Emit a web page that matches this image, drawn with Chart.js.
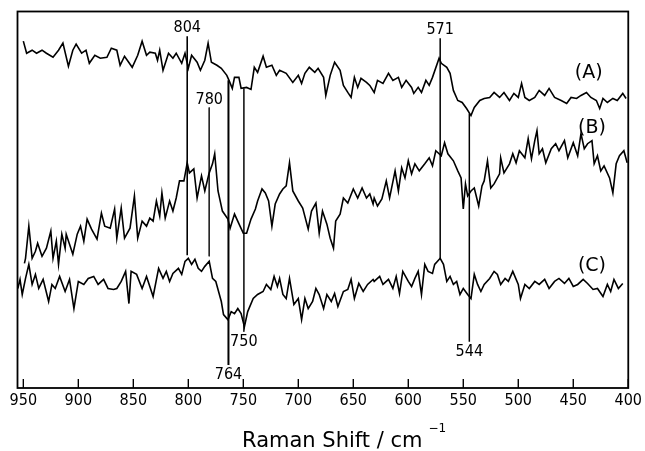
<!DOCTYPE html>
<html>
<head>
<meta charset="utf-8">
<title>Raman spectra</title>
<script src="https://cdn.jsdelivr.net/npm/chart.js@4.4.1/dist/chart.umd.min.js"></script>
<style>
  html, body { margin: 0; padding: 0; background: #fff; }
  #wrap { width: 645px; height: 451px; }
</style>
</head>
<body>
<div id="wrap"><canvas id="raman"></canvas></div>
<script>
/* ========= Data (intensity in arbitrary units) ========= */
const tickValues = [950, 900, 850, 800, 750, 700, 650, 600, 550, 500, 450, 400];

const shiftA = [950, 947, 942, 938, 933, 929, 923, 918, 914, 909, 905, 902, 897, 893, 890, 885, 880, 874, 870, 865,
  862, 858, 851, 846, 842, 838, 835, 830, 828, 826, 823, 818, 814, 811, 806, 803, 800, 797, 792, 789,
  785, 782, 779, 774, 770, 765, 763, 760, 758, 754, 752, 747, 743, 740, 737, 732, 729, 724, 720, 717,
  711, 705, 700, 697, 694, 690, 685, 682, 677, 675, 671, 667, 662, 659, 655, 652, 649, 646, 643, 638,
  635, 631, 628, 623, 618, 614, 609, 606, 602, 597, 595, 591, 588, 584, 581, 578, 572, 570, 565, 562,
  559, 555, 551, 547, 543, 540, 535, 531, 526, 522, 517, 513, 508, 504, 500, 497, 494, 490, 485, 481,
  476, 472, 467, 461, 456, 452, 447, 443, 438, 434, 429, 426, 423, 419, 414, 410, 405, 402];
const intensityA = [345, 333, 336, 333, 336, 333, 329, 336, 343, 320, 336, 342, 333, 336, 323, 331, 328, 329, 338, 336,
  321, 330, 319, 331, 345, 331, 334, 333, 326, 336, 316, 333, 328, 333, 323, 333, 318, 331, 324, 316,
  326, 343, 324, 321, 318, 311, 306, 298, 309, 309, 298, 299, 297, 319, 314, 330, 319, 321, 311, 316,
  313, 304, 311, 303, 313, 319, 314, 318, 309, 291, 311, 324, 316, 301, 294, 289, 309, 299, 308, 304,
  301, 294, 306, 303, 313, 306, 309, 299, 306, 299, 293, 299, 294, 306, 301, 309, 328, 323, 319, 313,
  296, 286, 284, 278, 271, 279, 286, 288, 289, 294, 289, 294, 286, 293, 289, 303, 289, 286, 289, 296,
  291, 298, 289, 286, 283, 289, 288, 291, 294, 289, 286, 278, 288, 284, 288, 286, 293, 288];

const shiftB = [949, 948, 945, 942, 939, 937, 933, 929, 925, 923, 920, 918, 915, 912, 911, 908, 905, 901, 898, 895,
  892, 888, 883, 879, 876, 871, 867, 865, 861, 858, 853, 849, 846, 842, 838, 835, 832, 829, 826, 824,
  821, 817, 814, 811, 808, 804, 801, 799, 795, 792, 788, 785, 781, 778, 776, 773, 769, 764, 762, 758,
  753, 750, 747, 743, 739, 737, 733, 730, 727, 724, 721, 717, 714, 711, 708, 705, 700, 696, 691, 688,
  684, 681, 678, 674, 671, 668, 666, 662, 659, 655, 650, 646, 642, 638, 635, 632, 631, 628, 624, 620,
  617, 612, 609, 606, 603, 600, 597, 594, 590, 585, 581, 578, 575, 570, 567, 564, 559, 555, 552, 550,
  548, 546, 543, 540, 536, 533, 531, 528, 525, 522, 517, 516, 513, 508, 505, 502, 499, 494, 491, 488,
  485, 483, 481, 478, 475, 470, 466, 463, 458, 455, 450, 446, 443, 440, 437, 433, 431, 428, 425, 422,
  417, 414, 411, 408, 404, 401];
const intensityB = [124, 129, 161, 129, 136, 144, 131, 139, 156, 129, 146, 123, 153, 139, 153, 143, 133, 153, 161, 146,
  168, 158, 148, 174, 161, 159, 178, 149, 179, 149, 159, 191, 149, 166, 161, 169, 166, 186, 171, 194,
  169, 186, 176, 189, 206, 206, 224, 214, 218, 189, 211, 196, 214, 223, 233, 196, 176, 168, 159, 173,
  161, 154, 154, 168, 178, 186, 198, 194, 186, 161, 183, 193, 198, 201, 224, 196, 186, 179, 158, 176,
  184, 154, 176, 163, 149, 139, 166, 173, 189, 184, 198, 189, 199, 189, 193, 183, 189, 181, 188, 206,
  189, 216, 196, 219, 209, 226, 213, 223, 216, 223, 229, 221, 236, 231, 244, 233, 226, 216, 209, 178,
  203, 191, 196, 199, 181, 201, 206, 226, 199, 203, 213, 229, 214, 223, 233, 224, 236, 229, 248, 228,
  246, 256, 233, 238, 224, 238, 243, 236, 246, 229, 244, 231, 253, 238, 243, 246, 223, 231, 216, 221,
  209, 194, 223, 231, 236, 224];

const shiftC = [955, 953, 951, 948, 945, 942, 939, 936, 932, 927, 924, 921, 917, 912, 908, 904, 900, 895, 891, 886,
  882, 877, 873, 868, 865, 861, 857, 854, 852, 847, 842, 838, 832, 827, 823, 820, 817, 814, 809, 806,
  803, 800, 797, 794, 791, 788, 785, 781, 778, 775, 772, 770, 768, 764, 761, 758, 755, 752, 749, 746,
  741, 737, 732, 729, 725, 722, 719, 717, 714, 711, 708, 704, 700, 697, 694, 691, 687, 684, 681, 677,
  674, 670, 667, 664, 659, 655, 652, 649, 645, 641, 637, 632, 631, 626, 623, 618, 614, 611, 608, 605,
  600, 597, 594, 591, 588, 585, 582, 578, 576, 571, 568, 565, 562, 559, 556, 553, 550, 546, 543, 540,
  537, 534, 531, 526, 522, 519, 516, 512, 509, 505, 500, 498, 494, 490, 485, 481, 476, 472, 467, 463,
  458, 454, 450, 446, 441, 437, 432, 428, 423, 419, 416, 413, 409, 405];
const intensityC = [99, 108, 93, 109, 123, 103, 113, 99, 108, 86, 103, 99, 111, 96, 108, 79, 106, 103, 109, 111,
  103, 108, 99, 98, 99, 106, 116, 84, 116, 113, 99, 111, 91, 119, 109, 116, 106, 114, 119, 113,
  126, 129, 123, 128, 119, 116, 121, 126, 109, 106, 94, 86, 73, 68, 76, 74, 79, 74, 61, 76,
  89, 93, 96, 103, 98, 111, 101, 109, 93, 89, 109, 83, 89, 68, 89, 79, 86, 99, 93, 79,
  93, 86, 94, 81, 96, 98, 108, 89, 104, 96, 103, 108, 106, 111, 103, 108, 99, 111, 94, 116,
  106, 101, 109, 116, 93, 123, 116, 114, 123, 129, 123, 106, 111, 103, 106, 93, 99, 93, 89, 113,
  103, 96, 103, 109, 116, 113, 103, 109, 106, 116, 103, 89, 103, 99, 106, 103, 108, 99, 106, 109,
  104, 109, 101, 103, 108, 104, 98, 99, 91, 103, 96, 108, 99, 104];

// band markers: where the line sits, what it is called, and how far it runs
const markerShift = [801, 781, 763.5, 749.5, 571, 544.5];
const markerLabel = ['804', '780', '764', '750', '571', '544'];
const markerTop = [350, 279, 306, 298, 348, 273];
const markerBottom = [132, 131, 23, 56, 128, 46];
const markerSide = ['top', 'top', 'bottom', 'bottom', 'top', 'bottom'];
const markerWidth = [1.6, 1, 2, 1, 1.5, 1.5];

const traceLabel = ['(A)', '(B)', '(C)'];
const traceLabelShift = [436, 433, 433];
const traceLabelLevel = [313, 259, 121];

const FONT_NARROW = "'DejaVu Sans Condensed', 'DejaVu Sans', sans-serif";
const FONT_WIDE = "'DejaVu Sans', sans-serif";

function toPoints(xs, ys) {
  return xs.map((x, i) => ({ x: x, y: ys[i] }));
}

function traceSet(xs, ys) {
  return {
    data: toPoints(xs, ys),
    borderColor: '#000',
    borderWidth: 1.6,
    pointRadius: 0,
    tension: 0,
    fill: false
  };
}

const datasets = [
  traceSet(shiftA, intensityA),
  traceSet(shiftB, intensityB),
  traceSet(shiftC, intensityC)
];
markerShift.forEach((s, i) => {
  datasets.push({
    data: [{ x: s, y: markerTop[i] }, { x: s, y: markerBottom[i] }],
    borderColor: markerWidth[i] < 1.2 ? '#222' : '#000',
    borderWidth: markerWidth[i],
    pointRadius: 0,
    fill: false
  });
});

/* ========= Frame, inside ticks, labels ========= */
const framePlugin = {
  id: 'frame',
  afterDraw(chart) {
    const { ctx, chartArea: a, scales } = chart;
    const xs = scales.x, ys = scales.y;
    ctx.save();
    ctx.strokeStyle = '#000';
    ctx.lineWidth = 1.8;
    ctx.strokeRect(a.left, a.top, a.right - a.left, a.bottom - a.top);

    // tick marks point up into the plot
    ctx.lineWidth = 1.4;
    tickValues.forEach(v => {
      const px = xs.getPixelForValue(v);
      ctx.beginPath();
      ctx.moveTo(px, a.bottom);
      ctx.lineTo(px, a.bottom - 9);
      ctx.stroke();
    });

    // band labels
    ctx.fillStyle = '#000';
    ctx.font = '16px ' + FONT_NARROW;
    ctx.textAlign = 'center';
    ctx.textBaseline = 'middle';
    markerShift.forEach((s, i) => {
      const px = xs.getPixelForValue(s);
      if (markerSide[i] === 'top') {
        ctx.fillText(markerLabel[i], px, ys.getPixelForValue(markerTop[i]) - 8);
      } else {
        ctx.fillText(markerLabel[i], px, ys.getPixelForValue(markerBottom[i]) + 10);
      }
    });

    // spectrum labels
    ctx.font = '19px ' + FONT_WIDE;
    traceLabel.forEach((t, i) => {
      ctx.fillText(t, xs.getPixelForValue(traceLabelShift[i]), ys.getPixelForValue(traceLabelLevel[i]));
    });

    // axis title with superscript
    ctx.textAlign = 'left';
    ctx.textBaseline = 'alphabetic';
    ctx.font = '21px ' + FONT_WIDE;
    const main = 'Raman Shift / cm';
    const w = ctx.measureText(main).width;
    const x0 = 242;
    ctx.fillText(main, x0, 447);
    ctx.font = '12px ' + FONT_WIDE;
    ctx.fillText('\u22121', x0 + w + 6, 432);
    ctx.restore();
  }
};

new Chart(document.getElementById('raman'), {
  type: 'line',
  data: { datasets },
  options: {
    responsive: true,
    maintainAspectRatio: false,
    animation: false,
    layout: { padding: { left: 17.5, right: 16, top: 11.5, bottom: 37.8 } },
    plugins: { legend: { display: false }, tooltip: { enabled: false } },
    scales: {
      x: {
        type: 'linear',
        reverse: true,
        min: 400,
        max: 955.3,
        afterBuildTicks: axis => { axis.ticks = tickValues.map(v => ({ value: v })); },
        grid: { display: false, drawTicks: false },
        border: { display: false },
        ticks: { color: '#000', padding: 3, maxRotation: 0, autoSkip: false, font: { family: FONT_NARROW, size: 16 } }
      },
      y: {
        type: 'linear',
        display: false,
        min: 0,
        max: 374.5
      }
    }
  },
  plugins: [framePlugin]
});
</script>
</body>
</html>
